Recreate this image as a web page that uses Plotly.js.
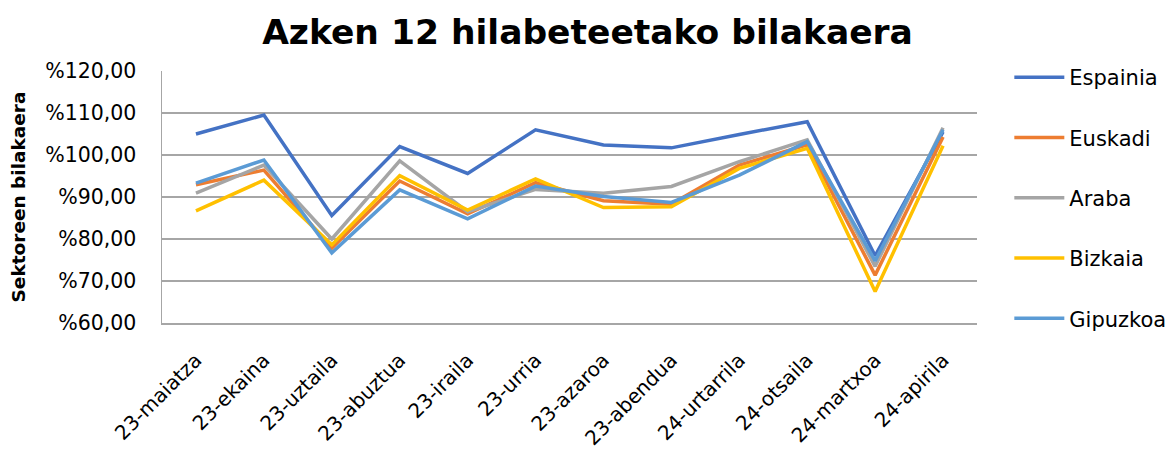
<!DOCTYPE html>
<html>
<head>
<meta charset="utf-8">
<script src="https://cdn.plot.ly/plotly-3.0.1.min.js"></script>
<style>html,body{margin:0;padding:0;background:#fff;}#chart{width:1175px;height:449px;}</style>
</head>
<body>
<div id="chart"></div>
<script>
const months = ["23-maiatza","23-ekaina","23-uztaila","23-abuztua","23-iraila","23-urria","23-azaroa","23-abendua","24-urtarrila","24-otsaila","24-martxoa","24-apirila"];
const espainia = [105.0,109.5,85.6,102.0,95.6,106.0,102.4,101.7,104.9,107.9,76.0,105.5];
const euskadi  = [92.9,96.4,77.8,93.8,86.0,93.4,89.1,88.3,97.6,102.4,71.4,104.3];
const araba    = [90.9,97.6,80.0,98.6,86.5,91.8,90.9,92.5,98.4,103.6,73.5,106.5];
const bizkaia  = [86.7,94.0,78.6,95.1,86.9,94.3,87.5,87.7,96.8,101.6,67.5,102.2];
const gipuzkoa = [93.3,98.8,76.7,91.7,84.8,92.6,90.1,88.7,95.2,103.2,74.8,106.0];
const seriesNames = ["Espainia","Euskadi","Araba","Bizkaia","Gipuzkoa"];
const seriesData = [espainia,euskadi,araba,bizkaia,gipuzkoa];
const colors = ["#4472C4","#ED7D31","#A5A5A5","#FFC000","#5B9BD5"];

const traces = seriesNames.map((n,i)=>({
  type:'scatter', mode:'lines', name:n, x:months, y:seriesData[i],
  line:{color:colors[i], width:3.5}, legendgroup:'g'+i
}));

const layout = {
  width:1175, height:449,
  margin:{l:162, r:198, t:71, b:126},
  paper_bgcolor:'#fff', plot_bgcolor:'#fff',
  font:{family:'"DejaVu Sans", sans-serif', color:'#000', size:20.5},
  separators:', ',
  title:{text:'<b>Azken 12 hilabeteetako bilakaera</b>', font:{size:34.5, color:'#000'}, x:0.5, xanchor:'center', xref:'container', y:0.929, yanchor:'middle', yref:'container'},
  xaxis:{type:'category', range:[-0.5, 11.5], tickangle:-45, showgrid:false, showline:true, linecolor:'#a6a6a6', linewidth:1.5, ticks:'', ticklabelstandoff:16, tickfont:{size:20}, fixedrange:true},
  yaxis:{range:[60,120], dtick:10, tick0:60, tickprefix:'%', tickformat:'.2f', showgrid:true, gridcolor:'#a6a6a6', gridwidth:1.5, showline:true, linecolor:'#a6a6a6', linewidth:1.5, zeroline:false, ticks:'', ticklabelstandoff:20, tickfont:{size:20.5},
    title:{text:'<b>Sektoreen bilakaera</b>', font:{size:18.5}, standoff:14}},
  legend:{xref:'container', yref:'container', x:0.859, xanchor:'left', y:0.873, yanchor:'top', tracegroupgap:30, font:{size:21}, itemwidth:50, bgcolor:'rgba(0,0,0,0)', maxheight:420},
  showlegend:true
};
Plotly.newPlot('chart', traces, layout, {displayModeBar:false, staticPlot:true});
</script>
</body>
</html>
